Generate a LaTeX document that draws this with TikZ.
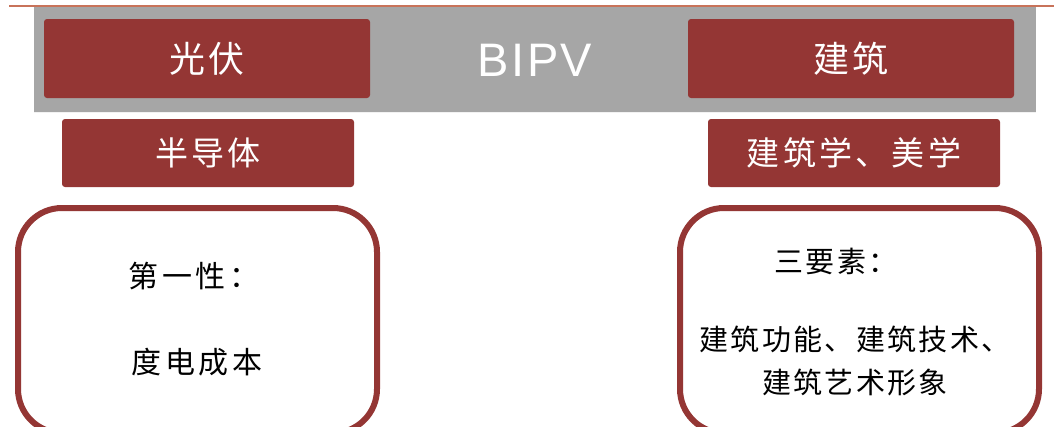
\documentclass[tikz,border=0pt]{standalone}
\usepackage{fontspec}
\newfontfamily\cjk{Noto Sans CJK SC}
\newfontfamily\latinsans{Liberation Sans}
\definecolor{brick}{RGB}{148,54,52}
\definecolor{barGray}{RGB}{166,166,166}
\definecolor{rule}{RGB}{200,115,90}
\begin{document}
\begin{tikzpicture}[x=1pt,y=-1pt,
  redbox/.style={fill=brick,rounded corners=3pt,inner sep=0pt,text=white},
  headfont/.style={font=\cjk\addfontfeature{LetterSpace=8}\fontsize{36}{40}\selectfont},
  subfont/.style={font=\cjk\addfontfeature{LetterSpace=10}\fontsize{33}{36}\selectfont},
  roundbox/.style={draw=brick,line width=6pt,rounded corners=44pt,fill=white},
  lefttext/.style={text=black,font=\cjk\addfontfeature{LetterSpace=12}\fontsize{30}{36}\selectfont,align=center},
  righttext/.style={text=black,font=\cjk\addfontfeature{LetterSpace=8}\fontsize{29}{43}\selectfont,align=center}]
\useasboundingbox (0,0) rectangle (1054,426);
\clip (0,0) rectangle (1054,426);
% top rule
\draw[rule,line width=2pt] (9,6) -- (1054,6);
% grey band
\fill[barGray] (34,7) rectangle (1036,112);
\draw[white!90!gray,line width=0.8pt] (34,112) -- (1036,112);
% header boxes
\node[redbox,headfont,minimum width=326pt,minimum height=79pt] (pv) at (207,58.5) {光伏};
\node[redbox,headfont,minimum width=326pt,minimum height=79pt] (jz) at (851,58.5) {建筑};
\node[text=white,font=\latinsans\fontsize{47}{52}\selectfont] (bipv) at (535,60) {B\kern2.5pt I\kern2.5pt P\kern2.5pt V};
% second row
\node[redbox,subfont,minimum width=292pt,minimum height=68pt] (bdt) at (208,153) {半导体};
\node[redbox,subfont,minimum width=292pt,minimum height=68pt] (mx) at (854,153) {建筑学、美学};
% rounded panels
\draw[roundbox] (18,208) rectangle (377,433);
\draw[roundbox] (680,208) rectangle (1039,433);
\node[lefttext] (l1) at (194,276) {第一性：};
\node[lefttext] (l2) at (197,362) {度电成本};
\node[righttext] (r1) at (836,261) {三要素：};
\node[righttext] (r2) at (855,361) {建筑功能、建筑技术、\\建筑艺术形象};
\end{tikzpicture}
\end{document}
